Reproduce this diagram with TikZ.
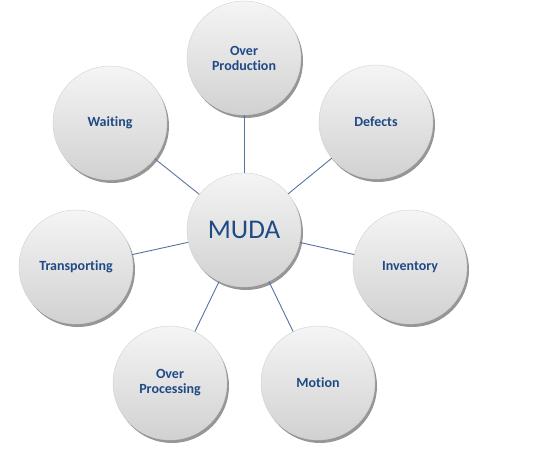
\documentclass[tikz,border=0pt]{standalone}
\usepackage{fontspec}
\setmainfont{Carlito}[Ligatures=CommonOff]
\usetikzlibrary{positioning, shadows}

\definecolor{wastetext}{HTML}{1F4A86}
\definecolor{spokeblue}{HTML}{5673A0}

\begin{document}
\begin{tikzpicture}[
    x = 1pt,
    y = -1pt,
    waste/.style = {circle, minimum size=114pt, inner sep=0pt, align=center,
        top color=white!96!black, bottom color=black!18, draw=black!18, thin,
        drop shadow={shadow xshift=2pt, shadow yshift=-3pt, opacity=0.55, fill=black!75},
        text=wastetext, font=\bfseries\fontsize{14}{15}\selectfont},
    hub/.style = {waste, font=\fontsize{27}{30}\selectfont},
    spoke/.style = {draw=spokeblue, line width=0.9pt}
]
\useasboundingbox (0,0) rectangle (538,455);

% 1. The centre circle
\node[hub] (muda) at (244, 230) {MUDA};

% 2. The seven wastes around it
\foreach \name/\pos/\txt in {
    prod/{244,58}/{Over\\Production},
    defects/{376,122}/{Defects},
    inventory/{410,267}/{Inventory},
    motion/{318,383}/{Motion},
    process/{170,383}/{Over\\Processing},
    transport/{76,267}/{Transporting},
    waiting/{110,123}/{Waiting}} {
    \node[waste] (\name) at (\pos) {\txt};
}

% 3. Spokes from the centre to each waste
\foreach \name in {prod, defects, inventory, motion, process, transport, waiting} {
    \draw[spoke] (muda) -- (\name);
}

\end{tikzpicture}
\end{document}
